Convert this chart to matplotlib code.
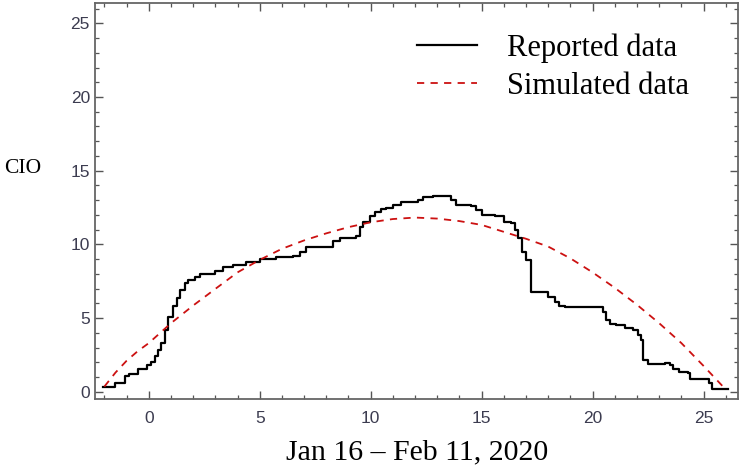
import matplotlib
matplotlib.use('Agg')
import matplotlib.pyplot as plt
from matplotlib.ticker import MultipleLocator

# reported CIO
rep_x = [-2.06, -1.58, -1.5, -1.08, -0.9, -0.48, -0.1, 0.12, 0.27, 0.42, 0.57, 0.72, 0.87,
         1.1, 1.25, 1.4, 1.62, 1.77, 2.07, 2.3, 2.97, 3.35, 3.8, 4.4, 5.0, 5.75, 6.5, 6.8,
         7.1, 8.15, 8.3, 8.6, 9.35, 9.5, 9.65, 9.95, 10.18, 10.48, 10.7, 11.0, 11.38, 12.13,
         12.36, 12.8, 13.4, 13.63, 13.86, 14.5, 14.76, 15.0, 15.6, 16.0, 16.34, 16.5, 16.65,
         16.8, 17.0, 17.24, 17.24, 17.9, 17.99, 18.3, 18.5, 18.74, 20.24, 20.47, 20.6, 20.77,
         21.07, 21.44, 21.8, 22.04, 22.2, 22.27, 22.5, 23.1, 23.24, 23.47, 23.6, 23.9, 24.3,
         24.37, 25.1, 25.25, 25.4, 26.1]
rep_y = [0.31, 0.31, 0.59, 1.04, 1.2, 1.53, 1.8, 2.05, 2.4, 2.85, 3.3, 4.2, 5.1, 5.8, 6.35,
         6.9, 7.37, 7.6, 7.8, 7.97, 8.16, 8.45, 8.6, 8.83, 9.0, 9.13, 9.2, 9.5, 9.85, 9.85,
         10.26, 10.42, 10.58, 11.2, 11.55, 11.93, 12.2, 12.38, 12.5, 12.68, 12.9, 13.0, 13.2,
         13.3, 13.3, 13.0, 12.68, 12.6, 12.34, 12.0, 11.9, 11.55, 11.43, 11.0, 10.4, 9.5,
         8.95, 8.6, 6.8, 6.8, 6.46, 6.12, 5.83, 5.72, 5.72, 5.44, 4.88, 4.6, 4.54, 4.32,
         4.16, 3.86, 3.5, 2.17, 1.9, 1.9, 1.98, 1.83, 1.54, 1.31, 1.27, 0.86, 0.86, 0.59,
         0.18, 0.18]

# simulated CIO
sim_x = [-2, -1.5, -1, -0.5, 0, 1, 2, 3, 4, 5, 6, 7, 8, 9, 10, 11, 12, 13, 14, 15, 16,
         17, 18, 19, 20, 21, 22, 23, 24, 25, 25.5, 26]
sim_y = [0.35, 1.3, 2.1, 2.75, 3.3, 4.65, 5.85, 6.98, 8.1, 8.95, 9.7, 10.27, 10.75, 11.17,
         11.5, 11.72, 11.82, 11.75, 11.58, 11.32, 10.85, 10.38, 9.85, 9.05, 8.1, 7.05, 5.9,
         4.65, 3.3, 1.75, 0.95, 0.15]

fig = plt.figure(figsize=(7.42, 4.71), dpi=100)
ax = fig.add_axes([0.1287, 0.152, 0.8659, 0.841])

ax.plot(rep_x, rep_y, color='black', lw=1.6, drawstyle='steps-post', label='Reported data')
ax.plot(sim_x, sim_y, color='#cc1111', lw=1.3, dashes=(4, 3.5), label='Simulated data')

ax.set_xlim(-2.4, 26.55)
ax.set_ylim(-0.52, 26.36)

ax.xaxis.set_major_locator(MultipleLocator(5))
ax.xaxis.set_minor_locator(MultipleLocator(1))
ax.yaxis.set_major_locator(MultipleLocator(5))
ax.yaxis.set_minor_locator(MultipleLocator(1))
ax.tick_params(which='both', direction='in', top=True, right=True, color='#555555')
ax.tick_params(which='major', length=6, width=1.0)
ax.tick_params(which='minor', length=3, width=0.9)
ax.tick_params(axis='x', pad=8)
ax.tick_params(axis='y', pad=4)
for lab in ax.get_xticklabels() + ax.get_yticklabels():
    lab.set_family('Liberation Sans')
    lab.set_fontsize(12.5)
    lab.set_color('#3c3c50')
for sp in ax.spines.values():
    sp.set_color('#666666')
    sp.set_linewidth(1.3)

ax.set_ylabel('CIO', rotation=0, family='Liberation Serif', fontsize=15.5, ha='center', va='center')
ax.yaxis.set_label_coords(-0.114, 0.584)
ax.set_xlabel('Jan 16 \u2013 Feb 11, 2020', family='Liberation Serif', fontsize=21.5, va='center')
ax.xaxis.set_label_coords(0.5, -0.133)

ax.legend(loc='upper left', bbox_to_anchor=(0.5, 0.925), frameon=False,
          prop={'family': 'Liberation Serif', 'size': 22},
          handlelength=1.96, handletextpad=0.98, labelspacing=0.3, borderpad=0, borderaxespad=0)

fig.savefig('out.png', dpi=100)
